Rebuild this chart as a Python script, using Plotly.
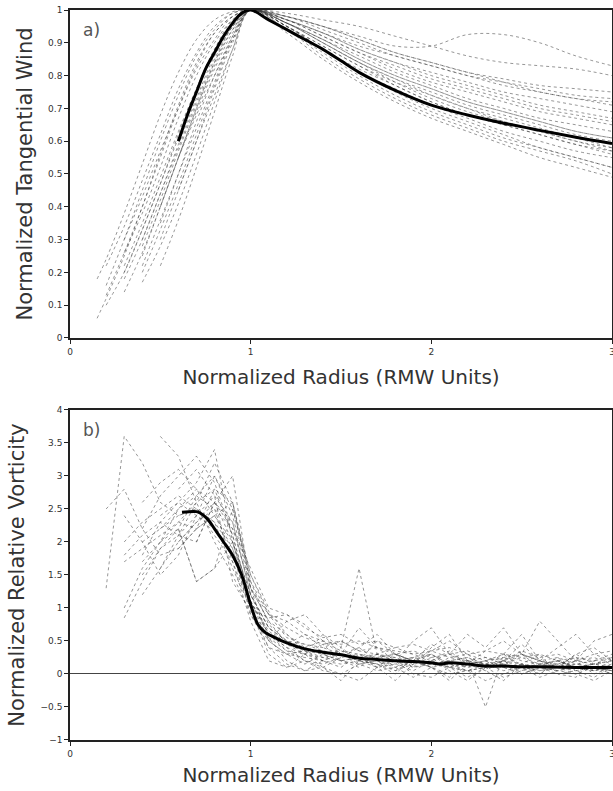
import plotly.graph_objects as go

# ---------------- Panel a: normalized tangential wind ----------------
RADIUS_A = [0.15, 0.2, 0.3, 0.4, 0.5, 0.6, 0.7, 0.8, 0.9, 1.0,
            1.2, 1.4, 1.6, 1.8, 2.0, 2.2, 2.4, 2.6, 2.8, 3.0]
N = None
WIND_PROFILES = [
    [0.06, 0.12, 0.25, 0.40, 0.55, 0.70, 0.83, 0.93, 0.98, 1.0, 0.96, 0.90, 0.84, 0.79, 0.74, 0.70, 0.67, 0.64, 0.61, 0.58],
    [0.18, 0.24, 0.38, 0.53, 0.68, 0.81, 0.91, 0.97, 0.995, 1.0, 0.98, 0.95, 0.91, 0.87, 0.84, 0.81, 0.78, 0.75, 0.73, 0.71],
    [N, 0.10, 0.20, 0.33, 0.47, 0.61, 0.75, 0.87, 0.96, 1.0, 0.95, 0.88, 0.81, 0.75, 0.70, 0.66, 0.62, 0.58, 0.55, 0.52],
    [N, 0.22, 0.34, 0.48, 0.62, 0.76, 0.87, 0.95, 0.99, 1.0, 0.97, 0.93, 0.89, 0.86, 0.83, 0.80, 0.77, 0.75, 0.73, 0.72],
    [N, N, 0.14, 0.26, 0.40, 0.55, 0.70, 0.84, 0.95, 1.0, 0.94, 0.86, 0.79, 0.73, 0.68, 0.64, 0.60, 0.57, 0.54, 0.50],
    [N, N, 0.22, 0.35, 0.49, 0.63, 0.76, 0.88, 0.96, 1.0, 0.96, 0.90, 0.84, 0.79, 0.75, 0.71, 0.68, 0.65, 0.62, 0.60],
    [N, N, 0.30, 0.43, 0.57, 0.70, 0.82, 0.91, 0.98, 1.0, 0.97, 0.92, 0.87, 0.83, 0.79, 0.76, 0.73, 0.70, 0.68, 0.66],
    [N, N, N, 0.22, 0.36, 0.50, 0.64, 0.78, 0.92, 1.0, 0.95, 0.88, 0.81, 0.76, 0.71, 0.67, 0.63, 0.60, 0.57, 0.55],
    [N, N, N, 0.17, 0.28, 0.41, 0.56, 0.72, 0.88, 1.0, 0.93, 0.85, 0.78, 0.72, 0.67, 0.63, 0.59, 0.55, 0.52, 0.49],
    [N, N, N, 0.30, 0.44, 0.58, 0.72, 0.85, 0.95, 1.0, 0.96, 0.91, 0.86, 0.81, 0.77, 0.73, 0.70, 0.67, 0.65, 0.63],
    [N, N, 0.26, 0.38, 0.52, 0.67, 0.80, 0.90, 0.97, 1.0, 0.98, 0.94, 0.90, 0.86, 0.83, 0.80, 0.78, 0.76, 0.74, 0.73],
    [N, N, N, N, 0.30, 0.45, 0.60, 0.76, 0.90, 1.0, 0.95, 0.89, 0.83, 0.78, 0.74, 0.70, 0.66, 0.63, 0.60, 0.57],
    [N, N, N, 0.25, 0.40, 0.55, 0.69, 0.82, 0.93, 1.0, 0.96, 0.91, 0.85, 0.80, 0.76, 0.72, 0.69, 0.66, 0.63, 0.61],
    [N, 0.16, 0.30, 0.45, 0.60, 0.74, 0.86, 0.94, 0.99, 1.0, 0.98, 0.95, 0.92, 0.89, 0.89, 0.925, 0.925, 0.90, 0.86, 0.83],
    [N, N, N, N, 0.40, 0.55, 0.70, 0.83, 0.94, 1.0, 0.97, 0.93, 0.88, 0.84, 0.81, 0.78, 0.75, 0.73, 0.71, 0.69],
    [N, N, N, N, N, 0.45, 0.60, 0.74, 0.88, 1.0, 0.94, 0.87, 0.80, 0.74, 0.69, 0.65, 0.61, 0.58, 0.55, 0.52],
    [N, N, N, N, 0.22, 0.36, 0.52, 0.69, 0.86, 1.0, 0.95, 0.89, 0.83, 0.77, 0.72, 0.68, 0.65, 0.62, 0.59, 0.56],
    [N, N, 0.18, 0.30, 0.44, 0.59, 0.73, 0.86, 0.95, 1.0, 0.97, 0.93, 0.88, 0.84, 0.80, 0.77, 0.74, 0.71, 0.69, 0.67],
    [N, 0.13, 0.26, 0.40, 0.56, 0.71, 0.84, 0.93, 0.98, 1.0, 0.99, 0.97, 0.95, 0.92, 0.89, 0.86, 0.84, 0.83, 0.82, 0.80],
    [N, N, N, 0.20, 0.33, 0.47, 0.62, 0.77, 0.91, 1.0, 0.96, 0.90, 0.84, 0.78, 0.73, 0.69, 0.66, 0.63, 0.60, 0.58],
    [N, N, N, N, 0.35, 0.50, 0.66, 0.80, 0.92, 1.0, 0.97, 0.92, 0.87, 0.82, 0.78, 0.75, 0.72, 0.69, 0.67, 0.65],
    [N, N, N, N, N, 0.55, 0.68, 0.80, 0.91, 1.0, 0.96, 0.91, 0.85, 0.80, 0.76, 0.72, 0.69, 0.66, 0.63, 0.61],
    [N, N, 0.20, 0.33, 0.47, 0.62, 0.76, 0.88, 0.97, 1.0, 0.95, 0.88, 0.82, 0.77, 0.72, 0.68, 0.65, 0.62, 0.59, 0.57],
    [N, N, N, 0.28, 0.42, 0.57, 0.71, 0.84, 0.94, 1.0, 0.98, 0.95, 0.91, 0.87, 0.84, 0.81, 0.79, 0.77, 0.76, 0.75],
]
MEAN_A_X = [0.6, 0.65, 0.7, 0.75, 0.8, 0.85, 0.9, 0.95, 1.0, 1.1, 1.2, 1.3, 1.4, 1.5,
            1.6, 1.8, 2.0, 2.2, 2.4, 2.6, 2.8, 3.0]
MEAN_A_Y = [0.6, 0.68, 0.75, 0.82, 0.87, 0.92, 0.96, 0.99, 1.0, 0.97, 0.94, 0.91, 0.88, 0.845,
            0.81, 0.755, 0.71, 0.68, 0.655, 0.633, 0.612, 0.593]

# ---------------- Panel b: normalized relative vorticity ----------------
RADIUS_B = [0.2, 0.3, 0.4, 0.5, 0.6, 0.7, 0.8, 0.9, 1.0, 1.1, 1.2, 1.3, 1.4, 1.5, 1.6,
            1.7, 1.8, 1.9, 2.0, 2.1, 2.2, 2.3, 2.4, 2.5, 2.6, 2.7, 2.8, 2.9, 3.0]
VORT_PROFILES = [
    [1.3, 3.6, 3.2, 2.6, 2.4, 2.5, 2.3, 1.6, 1.0, 0.55, 0.35, 0.3, 0.45, 0.2, 0.1, 0.3, 0.25, 0.1, 0.2, 0.35, 0.15, 0.05, 0.2, 0.3, 0.1, 0.15, 0.25, 0.05, 0.1],
    [2.5, 2.8, 2.2, 1.8, 1.9, 2.2, 2.4, 2.0, 1.1, 0.6, 0.4, 0.2, 0.1, 0.25, 0.4, 0.2, 0.05, 0.15, 0.3, 0.1, -0.05, 0.1, 0.25, 0.15, 0.0, 0.2, 0.1, 0.05, 0.15],
    [N, 1.0, 1.6, 2.0, 2.5, 2.8, 2.6, 2.0, 1.2, 0.7, 0.5, 0.45, 0.35, 0.3, 0.2, 0.25, 0.3, 0.2, 0.15, 0.2, 0.1, 0.15, 0.1, 0.05, 0.15, 0.1, 0.05, 0.1, 0.05],
    [N, 0.85, 1.4, 1.9, 2.2, 2.7, 3.0, 2.4, 1.3, 0.8, 0.6, 0.4, 0.3, 0.35, 0.25, 0.15, 0.2, 0.25, 0.15, 0.1, 0.2, 0.15, 0.05, 0.1, 0.2, 0.15, 0.1, 0.05, 0.1],
    [N, 2.4, 2.0, 1.5, 1.8, 2.4, 3.0, 2.5, 1.4, 0.9, 0.7, 0.55, 0.45, 0.5, 0.35, 0.4, 0.3, 0.35, 0.25, 0.3, 0.2, 0.25, 0.15, 0.3, 0.2, 0.1, 0.2, 0.15, 0.2],
    [N, N, 1.8, 2.3, 2.6, 2.4, 2.2, 1.8, 1.0, 0.4, 0.15, 0.05, 0.2, 0.1, 0.3, 0.1, -0.1, 0.15, 0.25, 0.05, -0.1, 0.1, 0.2, 0.0, 0.1, 0.25, 0.05, -0.05, 0.1],
    [N, N, 2.2, 2.7, 3.0, 3.3, 2.9, 2.1, 1.1, 0.5, 0.3, 0.25, 0.2, 0.15, 0.2, 0.1, 0.15, 0.05, 0.2, 0.1, 0.05, 0.15, 0.1, 0.0, 0.1, 0.05, 0.15, 0.1, 0.0],
    [N, N, 1.2, 1.6, 2.0, 2.3, 2.5, 2.2, 1.3, 0.9, 0.8, 0.6, 0.5, 0.45, 0.5, 0.4, 0.35, 0.3, 0.35, 0.25, 0.3, 0.2, 0.25, 0.3, 0.2, 0.25, 0.15, 0.2, 0.25],
    [N, N, N, 2.0, 2.2, 1.4, 1.6, 2.5, 1.5, 0.95, 0.6, 0.35, 0.25, 0.3, 0.15, 0.2, 0.1, 0.2, 0.1, 0.15, 0.05, 0.1, 0.15, 0.1, 0.05, 0.1, 0.0, 0.1, 0.05],
    [N, N, N, 2.4, 2.6, 2.9, 3.4, 2.0, 1.2, 0.7, 0.45, 0.3, 0.25, 0.2, 0.15, 0.2, 0.25, 0.15, 0.2, 0.1, 0.15, 0.2, 0.1, 0.15, 0.1, 0.05, 0.1, 0.15, 0.1],
    [N, N, N, N, 2.0, 2.3, 2.6, 2.2, 1.6, 1.0, 0.9, 0.7, 0.55, 0.6, 0.45, 0.5, 0.4, 0.45, 0.35, 0.4, 0.3, 0.35, 0.3, 0.25, 0.3, 0.2, 0.25, 0.2, 0.3],
    [N, N, N, N, 2.8, 3.1, 2.7, 1.4, 0.95, 0.55, 0.2, 0.05, 0.1, 0.0, 0.15, 0.05, 0.1, -0.05, 0.1, 0.0, 0.05, 0.1, -0.05, 0.05, 0.1, 0.0, 0.05, 0.1, 0.0],
    [N, N, 2.0, 2.2, 2.4, 2.5, 2.3, 1.9, 1.1, 0.6, 0.4, 0.3, 0.2, 0.4, 1.6, 0.3, 0.1, 0.2, 0.35, 0.5, 0.3, 0.1, 0.2, 0.45, 0.2, 0.1, 0.3, 0.15, 0.2],
    [N, 1.8, 2.1, 2.3, 2.1, 2.0, 2.6, 2.3, 1.2, 0.7, 0.5, 0.3, 0.6, 0.4, 0.2, 0.5, 0.3, 0.1, 0.4, 0.6, 0.2, -0.5, 0.3, 0.6, 0.2, 0.1, 0.3, 0.4, 0.2],
    [N, N, N, 1.6, 2.1, 2.6, 3.2, 2.6, 1.3, 0.5, 0.8, 0.9, 0.6, 0.3, 0.7, 0.4, 0.2, 0.5, 0.7, 0.3, 0.6, 0.4, 0.7, 0.3, 0.8, 0.5, 0.2, 0.5, 0.6],
    [N, N, N, N, 2.2, 1.4, 1.6, 2.0, 1.0, 0.3, 0.1, 0.2, 0.05, 0.0, -0.1, 0.1, 0.2, 0.0, -0.05, 0.1, 0.05, -0.1, 0.0, 0.1, -0.05, 0.05, 0.0, -0.1, 0.05],
    [N, N, 2.6, 2.9, 3.1, 2.8, 2.4, 1.9, 0.9, 0.5, 0.3, 0.15, 0.3, 0.2, 0.25, 0.1, 0.3, 0.2, 0.15, 0.2, 0.25, 0.1, 0.2, 0.15, 0.1, 0.2, 0.1, 0.15, 0.1],
    [N, N, N, N, N, 2.0, 2.6, 3.0, 1.3, 0.8, 0.45, 0.6, 0.4, 0.3, 0.2, 0.3, 0.2, 0.25, 0.3, 0.15, 0.2, 0.1, 0.15, 0.25, 0.15, 0.2, 0.1, 0.15, 0.25],
    [N, N, N, 3.6, 3.3, 2.6, 2.0, 1.5, 0.9, 0.4, 0.3, 0.35, 0.2, 0.3, 0.2, 0.15, 0.05, 0.2, 0.1, -0.1, 0.15, 0.2, 0.3, 0.1, 0.0, 0.15, 0.2, 0.0, 0.1],
    [N, N, N, N, 1.9, 2.2, 2.8, 2.6, 1.4, 0.75, 0.5, 0.4, 0.5, 0.35, 0.3, 0.25, 0.3, 0.2, 0.1, 0.25, 0.2, 0.15, 0.3, 0.2, 0.15, 0.1, 0.2, 0.25, 0.15],
    [N, N, 1.5, 1.9, 2.1, 2.4, 2.7, 2.3, 1.2, 0.6, 0.35, 0.2, 0.15, 0.25, 0.3, 0.2, 0.15, 0.2, 0.3, 0.15, 0.1, 0.2, 0.1, 0.15, 0.05, 0.1, 0.15, 0.1, 0.05],
    [N, 1.7, 1.9, 2.1, 2.3, 2.6, 2.8, 2.1, 1.1, 0.65, 0.45, 0.35, 0.3, 0.2, 0.25, 0.3, 0.2, 0.1, 0.15, 0.2, 0.25, 0.15, 0.2, 0.1, 0.15, 0.2, 0.1, 0.05, 0.15],
    [N, N, N, 2.2, 2.5, 2.7, 2.5, 1.7, 1.0, 0.85, 0.9, 0.75, 0.5, 0.3, 0.4, 0.6, 0.3, 0.2, 0.45, 0.3, 0.15, 0.35, 0.5, 0.3, 0.2, 0.4, 0.6, 0.3, 0.35],
    [N, 2.0, 2.3, 2.5, 2.7, 2.5, 2.1, 1.7, 0.8, 0.2, 0.1, 0.3, 0.1, -0.1, 0.2, 0.15, 0.0, 0.25, 0.1, -0.05, 0.2, 0.05, -0.1, 0.15, 0.3, 0.0, -0.05, 0.2, 0.1],
    [N, N, 1.7, 2.0, 2.3, 2.2, 2.4, 2.6, 1.5, 0.9, 0.55, 0.45, 0.4, 0.5, 0.35, 0.3, 0.4, 0.3, 0.2, 0.3, 0.35, 0.25, 0.2, 0.35, 0.25, 0.3, 0.2, 0.3, 0.2],
]
MEAN_B_X = [0.62, 0.7, 0.72, 0.76, 0.8, 0.85, 0.9, 0.95, 1.0, 1.04, 1.08, 1.12, 1.2, 1.3, 1.4,
            1.5, 1.6, 1.7, 1.8, 1.9, 2.0, 2.05, 2.1, 2.2, 2.3, 2.4, 2.5, 2.6, 2.8, 3.0]
MEAN_B_Y = [2.45, 2.46, 2.44, 2.35, 2.2, 2.0, 1.8, 1.5, 1.05, 0.75, 0.63, 0.57, 0.47, 0.38, 0.33,
            0.29, 0.24, 0.22, 0.2, 0.19, 0.17, 0.15, 0.17, 0.15, 0.12, 0.12, 0.11, 0.11, 0.10, 0.10]

Y_TICKS_A = [0, 0.1, 0.2, 0.3, 0.4, 0.5, 0.6, 0.7, 0.8, 0.9, 1]
Y_TICKS_B = [-1, -0.5, 0, 0.5, 1, 1.5, 2, 2.5, 3, 3.5, 4]
X_TICKS = [0, 1, 2, 3]

GRAY = "rgba(60,60,60,0.6)"
FONT = "DejaVu Sans"

fig = go.Figure()
for prof in WIND_PROFILES:
    fig.add_trace(go.Scatter(x=RADIUS_A, y=prof, mode="lines", xaxis="x", yaxis="y",
                             line=dict(color=GRAY, width=0.9, dash="dot", shape="spline"),
                             showlegend=False, hoverinfo="skip"))
fig.add_trace(go.Scatter(x=MEAN_A_X, y=MEAN_A_Y, mode="lines", xaxis="x", yaxis="y",
                         line=dict(color="black", width=3, shape="spline"), showlegend=False))
for prof in VORT_PROFILES:
    fig.add_trace(go.Scatter(x=RADIUS_B, y=prof, mode="lines", xaxis="x2", yaxis="y2",
                             line=dict(color=GRAY, width=0.9, dash="dot"),
                             showlegend=False, hoverinfo="skip"))
fig.add_trace(go.Scatter(x=MEAN_B_X, y=MEAN_B_Y, mode="lines", xaxis="x2", yaxis="y2",
                         line=dict(color="black", width=3, shape="spline"), showlegend=False))

axis_common = dict(showline=True, linecolor="#222", linewidth=1.5, mirror=True,
                   showgrid=False, ticks="outside", ticklen=4, tickcolor="#222",
                   ticklabeloverflow="allow",
                   tickfont=dict(family=FONT, size=9, color="#333"), automargin=False)

xtitle_font = dict(family=FONT, size=20, color="#333")
ytitle_font = dict(family=FONT, size=21, color="#333")

fig.update_layout(
    width=613, height=791,
    margin=dict(l=70, r=1, t=10, b=51),
    paper_bgcolor="white", plot_bgcolor="white",
    xaxis=dict(domain=[0, 1], anchor="y", range=[0, 3], tickvals=X_TICKS,
               title=dict(text="Normalized Radius (RMW Units)", font=xtitle_font, standoff=14),
               zeroline=False, **axis_common),
    yaxis=dict(domain=[0.5507, 1], anchor="x", range=[0, 1], tickvals=Y_TICKS_A,
               title=dict(text="Normalized Tangential Wind", font=ytitle_font, standoff=10),
               zeroline=False, **axis_common),
    xaxis2=dict(domain=[0, 1], anchor="y2", range=[0, 3], tickvals=X_TICKS,
                title=dict(text="Normalized Radius (RMW Units)", font=xtitle_font, standoff=10),
                zeroline=False, **axis_common),
    yaxis2=dict(domain=[0, 0.4521], anchor="x2", range=[-1, 4], tickvals=Y_TICKS_B,
                title=dict(text="Normalized Relative Vorticity", font=ytitle_font, standoff=10),
                zeroline=True, zerolinecolor="#444", zerolinewidth=1, **axis_common),
    annotations=[
        dict(text="a)", xref="x domain", yref="y domain", x=0.02, y=0.975,
             xanchor="left", yanchor="top", showarrow=False,
             font=dict(family=FONT, size=17, color="#555")),
        dict(text="b)", xref="x2 domain", yref="y2 domain", x=0.02, y=0.975,
             xanchor="left", yanchor="top", showarrow=False,
             font=dict(family=FONT, size=17, color="#555")),
    ],
)

fig.write_html("out.html")
